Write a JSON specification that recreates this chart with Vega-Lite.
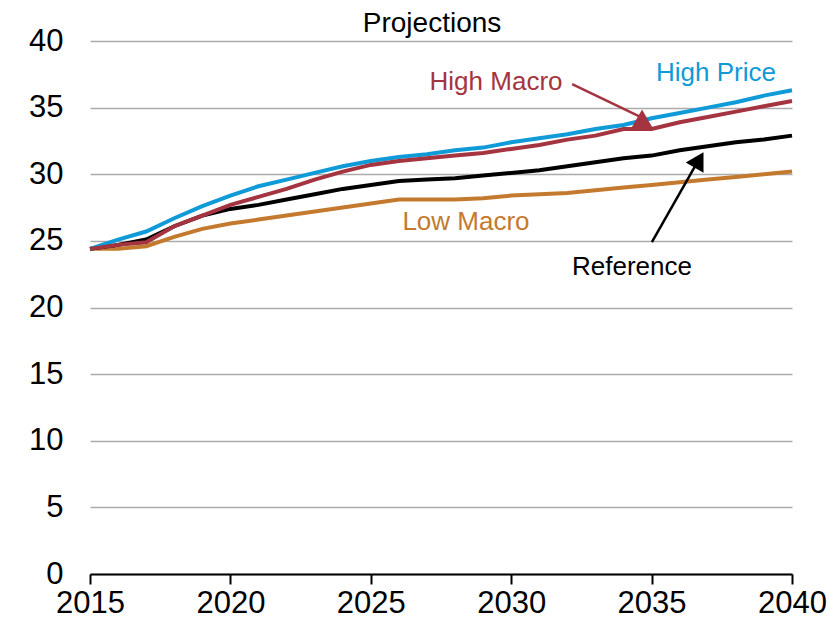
{
  "$schema": "https://vega.github.io/schema/vega-lite/v6.json",
  "width": 702,
  "height": 533,
  "autosize": {"type": "none"},
  "padding": {"left": 90, "top": 41, "right": 37, "bottom": 51},
  "background": "white",
  "config": {
    "view": {"stroke": null},
    "font": "Liberation Sans",
    "axis": {"labelFont": "Liberation Sans", "labelColor": "#000000"}
  },
  "datasets": {
    "series": [
      {"year": 2015, "scenario": "Low Macro", "value": 24.4},
      {"year": 2016, "scenario": "Low Macro", "value": 24.4},
      {"year": 2017, "scenario": "Low Macro", "value": 24.6},
      {"year": 2018, "scenario": "Low Macro", "value": 25.3},
      {"year": 2019, "scenario": "Low Macro", "value": 25.9},
      {"year": 2020, "scenario": "Low Macro", "value": 26.3},
      {"year": 2021, "scenario": "Low Macro", "value": 26.6},
      {"year": 2022, "scenario": "Low Macro", "value": 26.9},
      {"year": 2023, "scenario": "Low Macro", "value": 27.2},
      {"year": 2024, "scenario": "Low Macro", "value": 27.5},
      {"year": 2025, "scenario": "Low Macro", "value": 27.8},
      {"year": 2026, "scenario": "Low Macro", "value": 28.1},
      {"year": 2027, "scenario": "Low Macro", "value": 28.1},
      {"year": 2028, "scenario": "Low Macro", "value": 28.1},
      {"year": 2029, "scenario": "Low Macro", "value": 28.2},
      {"year": 2030, "scenario": "Low Macro", "value": 28.4},
      {"year": 2031, "scenario": "Low Macro", "value": 28.5},
      {"year": 2032, "scenario": "Low Macro", "value": 28.6},
      {"year": 2033, "scenario": "Low Macro", "value": 28.8},
      {"year": 2034, "scenario": "Low Macro", "value": 29.0},
      {"year": 2035, "scenario": "Low Macro", "value": 29.2},
      {"year": 2036, "scenario": "Low Macro", "value": 29.4},
      {"year": 2037, "scenario": "Low Macro", "value": 29.6},
      {"year": 2038, "scenario": "Low Macro", "value": 29.8},
      {"year": 2039, "scenario": "Low Macro", "value": 30.0},
      {"year": 2040, "scenario": "Low Macro", "value": 30.2},
      {"year": 2015, "scenario": "Reference", "value": 24.4},
      {"year": 2016, "scenario": "Reference", "value": 24.7},
      {"year": 2017, "scenario": "Reference", "value": 25.1},
      {"year": 2018, "scenario": "Reference", "value": 26.1},
      {"year": 2019, "scenario": "Reference", "value": 26.9},
      {"year": 2020, "scenario": "Reference", "value": 27.4},
      {"year": 2021, "scenario": "Reference", "value": 27.7},
      {"year": 2022, "scenario": "Reference", "value": 28.1},
      {"year": 2023, "scenario": "Reference", "value": 28.5},
      {"year": 2024, "scenario": "Reference", "value": 28.9},
      {"year": 2025, "scenario": "Reference", "value": 29.2},
      {"year": 2026, "scenario": "Reference", "value": 29.5},
      {"year": 2027, "scenario": "Reference", "value": 29.6},
      {"year": 2028, "scenario": "Reference", "value": 29.7},
      {"year": 2029, "scenario": "Reference", "value": 29.9},
      {"year": 2030, "scenario": "Reference", "value": 30.1},
      {"year": 2031, "scenario": "Reference", "value": 30.3},
      {"year": 2032, "scenario": "Reference", "value": 30.6},
      {"year": 2033, "scenario": "Reference", "value": 30.9},
      {"year": 2034, "scenario": "Reference", "value": 31.2},
      {"year": 2035, "scenario": "Reference", "value": 31.4},
      {"year": 2036, "scenario": "Reference", "value": 31.8},
      {"year": 2037, "scenario": "Reference", "value": 32.1},
      {"year": 2038, "scenario": "Reference", "value": 32.4},
      {"year": 2039, "scenario": "Reference", "value": 32.6},
      {"year": 2040, "scenario": "Reference", "value": 32.9},
      {"year": 2015, "scenario": "High Price", "value": 24.4},
      {"year": 2016, "scenario": "High Price", "value": 25.1},
      {"year": 2017, "scenario": "High Price", "value": 25.7},
      {"year": 2018, "scenario": "High Price", "value": 26.7},
      {"year": 2019, "scenario": "High Price", "value": 27.6},
      {"year": 2020, "scenario": "High Price", "value": 28.4},
      {"year": 2021, "scenario": "High Price", "value": 29.1},
      {"year": 2022, "scenario": "High Price", "value": 29.6},
      {"year": 2023, "scenario": "High Price", "value": 30.1},
      {"year": 2024, "scenario": "High Price", "value": 30.6},
      {"year": 2025, "scenario": "High Price", "value": 31.0},
      {"year": 2026, "scenario": "High Price", "value": 31.3},
      {"year": 2027, "scenario": "High Price", "value": 31.5},
      {"year": 2028, "scenario": "High Price", "value": 31.8},
      {"year": 2029, "scenario": "High Price", "value": 32.0},
      {"year": 2030, "scenario": "High Price", "value": 32.4},
      {"year": 2031, "scenario": "High Price", "value": 32.7},
      {"year": 2032, "scenario": "High Price", "value": 33.0},
      {"year": 2033, "scenario": "High Price", "value": 33.4},
      {"year": 2034, "scenario": "High Price", "value": 33.7},
      {"year": 2035, "scenario": "High Price", "value": 34.2},
      {"year": 2036, "scenario": "High Price", "value": 34.6},
      {"year": 2037, "scenario": "High Price", "value": 35.0},
      {"year": 2038, "scenario": "High Price", "value": 35.4},
      {"year": 2039, "scenario": "High Price", "value": 35.9},
      {"year": 2040, "scenario": "High Price", "value": 36.3},
      {"year": 2015, "scenario": "High Macro", "value": 24.4},
      {"year": 2016, "scenario": "High Macro", "value": 24.7},
      {"year": 2017, "scenario": "High Macro", "value": 24.9},
      {"year": 2018, "scenario": "High Macro", "value": 26.1},
      {"year": 2019, "scenario": "High Macro", "value": 26.9},
      {"year": 2020, "scenario": "High Macro", "value": 27.7},
      {"year": 2021, "scenario": "High Macro", "value": 28.3},
      {"year": 2022, "scenario": "High Macro", "value": 28.9},
      {"year": 2023, "scenario": "High Macro", "value": 29.6},
      {"year": 2024, "scenario": "High Macro", "value": 30.2},
      {"year": 2025, "scenario": "High Macro", "value": 30.7},
      {"year": 2026, "scenario": "High Macro", "value": 31.0},
      {"year": 2027, "scenario": "High Macro", "value": 31.2},
      {"year": 2028, "scenario": "High Macro", "value": 31.4},
      {"year": 2029, "scenario": "High Macro", "value": 31.6},
      {"year": 2030, "scenario": "High Macro", "value": 31.9},
      {"year": 2031, "scenario": "High Macro", "value": 32.2},
      {"year": 2032, "scenario": "High Macro", "value": 32.6},
      {"year": 2033, "scenario": "High Macro", "value": 32.9},
      {"year": 2034, "scenario": "High Macro", "value": 33.4},
      {"year": 2035, "scenario": "High Macro", "value": 33.4},
      {"year": 2036, "scenario": "High Macro", "value": 33.9},
      {"year": 2037, "scenario": "High Macro", "value": 34.3},
      {"year": 2038, "scenario": "High Macro", "value": 34.7},
      {"year": 2039, "scenario": "High Macro", "value": 35.1},
      {"year": 2040, "scenario": "High Macro", "value": 35.5}
    ],
    "labels": [
      {"label": "High Macro", "scenario": "High Macro", "year": 2029.46, "value": 36.32},
      {"label": "High Price", "scenario": "High Price", "year": 2037.29, "value": 37.0},
      {"label": "Low Macro", "scenario": "Low Macro", "year": 2028.39, "value": 25.81},
      {"label": "Reference", "scenario": "Reference", "year": 2034.3, "value": 22.43}
    ]
  },
  "layer": [
    {
      "data": {"name": "series"},
      "mark": {"type": "line", "strokeWidth": 4, "clip": false},
      "encoding": {
        "x": {
          "field": "year", "type": "quantitative",
          "scale": {"domain": [2015, 2040], "nice": false, "zero": false},
          "axis": {
            "values": [2015, 2020, 2025, 2030, 2035, 2040],
            "format": "d", "title": null, "grid": false,
            "domainColor": "#000000", "domainWidth": 2,
            "tickColor": "#000000", "tickWidth": 2, "tickSize": 10,
            "labelFontSize": 31, "labelPadding": 4, "labelFlush": false
          }
        },
        "y": {
          "field": "value", "type": "quantitative",
          "scale": {"domain": [0, 40], "nice": false},
          "axis": {
            "values": [0, 5, 10, 15, 20, 25, 30, 35, 40],
            "title": null, "domain": false, "ticks": false,
            "gridColor": "#ababab", "gridWidth": 1.5, "gridOpacity": 1,
            "labelFontSize": 31, "labelPadding": 27
          }
        },
        "color": {
          "field": "scenario", "type": "nominal",
          "scale": {
            "domain": ["Low Macro", "Reference", "High Price", "High Macro"],
            "range": ["#c47a2e", "#000000", "#0f9ad8", "#a53441"]
          },
          "legend": null
        },
        "order": {"field": "year"}
      }
    },
    {
      "data": {"values": [{"x1": 2032.17, "y1": 36.77, "x2": 2034.6, "y2": 34.3}]},
      "mark": {"type": "rule", "color": "#a53441", "strokeWidth": 2.5},
      "encoding": {
        "x": {"field": "x1", "type": "quantitative"},
        "y": {"field": "y1", "type": "quantitative"},
        "x2": {"field": "x2"},
        "y2": {"field": "y2"}
      }
    },
    {
      "data": {"values": [{"x": 2034.66, "y": 34.2}]},
      "mark": {"type": "point", "shape": "triangle-up", "filled": true, "color": "#a53441", "opacity": 1, "size": 420},
      "encoding": {
        "x": {"field": "x", "type": "quantitative"},
        "y": {"field": "y", "type": "quantitative"}
      }
    },
    {
      "data": {"values": [{"x1": 2035.01, "y1": 24.91, "x2": 2036.6, "y2": 30.8}]},
      "mark": {"type": "rule", "color": "#000000", "strokeWidth": 2.5},
      "encoding": {
        "x": {"field": "x1", "type": "quantitative"},
        "y": {"field": "y1", "type": "quantitative"},
        "x2": {"field": "x2"},
        "y2": {"field": "y2"}
      }
    },
    {
      "data": {"values": [{"x": 2036.69, "y": 31.07}]},
      "mark": {"type": "point", "shape": "triangle-up", "filled": true, "color": "#000000", "opacity": 1, "size": 420, "angle": 30},
      "encoding": {
        "x": {"field": "x", "type": "quantitative"},
        "y": {"field": "y", "type": "quantitative"}
      }
    },
    {
      "data": {"name": "labels"},
      "mark": {"type": "text", "fontSize": 26, "align": "center", "baseline": "alphabetic", "font": "Liberation Sans"},
      "encoding": {
        "x": {"field": "year", "type": "quantitative"},
        "y": {"field": "value", "type": "quantitative"},
        "text": {"field": "label"},
        "color": {"field": "scenario", "type": "nominal", "legend": null}
      }
    },
    {
      "data": {"values": [{"label": "Projections", "year": 2027.18, "value": 40.68}]},
      "mark": {"type": "text", "fontSize": 28, "align": "center", "baseline": "alphabetic", "color": "#000000", "font": "Liberation Sans"},
      "encoding": {
        "x": {"field": "year", "type": "quantitative"},
        "y": {"field": "value", "type": "quantitative"},
        "text": {"field": "label"}
      }
    }
  ]
}
